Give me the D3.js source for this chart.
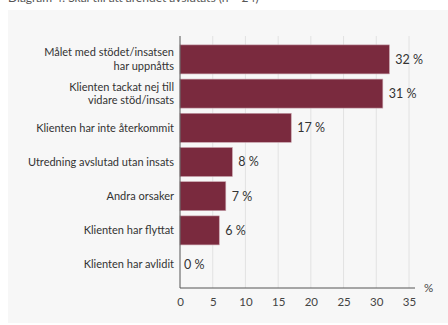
<!DOCTYPE html>
<html><head><meta charset="utf-8">
<script src="https://cdn.jsdelivr.net/npm/d3@7"></script>
<style>body{margin:0;background:#fff}svg{display:block}text{font-family:Lato,"Open Sans",sans-serif}</style>
</head><body>
<svg id="c" width="448" height="325"></svg>
<script>
const categories = [
  ["Målet med stödet/insatsen", "har uppnåtts"],
  ["Klienten tackat nej till", "vidare stöd/insats"],
  ["Klienten har inte återkommit"],
  ["Utredning avslutad utan insats"],
  ["Andra orsaker"],
  ["Klienten har flyttat"],
  ["Klienten har avlidit"]
];
const values = [32, 31, 17, 8, 7, 6, 0];
const ticks = [0, 5, 10, 15, 20, 25, 30, 35];
const titleText = "Diagram 4. Skäl till att ärendet avslutats (n = 24)";

const svg = d3.select("#c");
svg.append("text").attr("x", 8).attr("y", 2).attr("font-size", 12).attr("fill", "#555").text(titleText);
svg.append("rect").attr("x", 8).attr("y", 10).attr("width", 440).attr("height", 313).attr("fill", "#f7f7f7");

const x = d3.scaleLinear().domain([0, 35]).range([180, 409]);
const ids = d3.range(categories.length);
const y = d3.scaleBand().domain(ids).range([36, 288]).paddingInner(0.152).paddingOuter(0.26);

// grid
svg.append("g").selectAll("line").data(ticks.slice(1)).join("line")
  .attr("x1", d => x(d)).attr("x2", d => x(d)).attr("y1", 36).attr("y2", 288)
  .attr("stroke", "#e2e2e2").attr("stroke-width", 1);

// bars
svg.append("g").selectAll("rect").data(ids).join("rect")
  .attr("x", x(0)).attr("y", i => y(i)).attr("width", i => x(values[i]) - x(0)).attr("height", y.bandwidth())
  .attr("fill", "#7a2a3e").attr("stroke", "#c7a1ab").attr("stroke-width", 0.6);

// value labels
svg.append("g").selectAll("text").data(ids).join("text")
  .attr("x", i => x(values[i]) + (values[i] === 0 ? 4 : 6)).attr("y", i => y(i) + y.bandwidth() / 2)
  .attr("dy", "0.35em").attr("font-size", 12.5).attr("fill", "#333")
  .text(i => values[i] + " %");

// category labels
const lab = svg.append("g").selectAll("text").data(ids).join("text")
  .attr("text-anchor", "end").attr("font-size", 11).attr("fill", "#333")
  .attr("y", i => y(i) + y.bandwidth() / 2);
lab.each(function(i) {
  const lines = categories[i];
  const t = d3.select(this);
  lines.forEach((l, k) => {
    t.append("tspan").attr("x", 174)
      .attr("dy", k === 0 ? (0.35 - (lines.length - 1) * 0.62) + "em" : "1.25em")
      .text(l);
  });
});

// axes
svg.append("line").attr("x1", 180).attr("x2", 180).attr("y1", 36).attr("y2", 288).attr("stroke", "#555").attr("stroke-width", 1);
const xAxis = d3.axisBottom(x).tickValues(ticks).tickSize(0).tickPadding(10).tickFormat(d3.format("d"));
const ga = svg.append("g").attr("transform", "translate(0,288)").call(xAxis);
ga.select(".domain").remove();
ga.selectAll("text").attr("font-size", 11.5).attr("fill", "#444").style("font-family", "Lato, 'Open Sans', sans-serif");
svg.append("line").attr("x1", 180).attr("x2", 415).attr("y1", 288).attr("y2", 288).attr("stroke", "#555").attr("stroke-width", 1);
svg.append("text").attr("x", 424).attr("y", 288).attr("dy", "0.35em").attr("font-size", 11.5).attr("fill", "#444").text("%");
</script>
</body></html>
